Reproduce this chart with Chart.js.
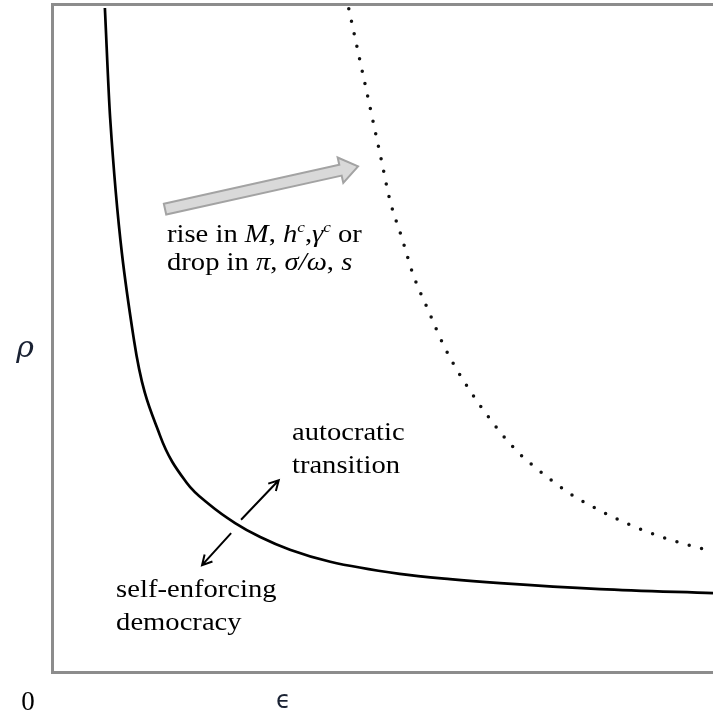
<!DOCTYPE html>
<html lang="en">
<head>
    <meta charset="UTF-8">
    <title>Self-enforcing democracy frontier</title>
    <script src="https://cdn.jsdelivr.net/npm/chart.js"></script>
    <style>
        body { margin: 0; background: #fff; }
        canvas { display: block; }
    </style>
</head>
<body>
    <canvas id="frontier" width="713" height="714"></canvas>

    <script>
        // curve values (epsilon on x, rho on y, 0..100)
        const solidX = [8.0, 8.8, 12.4, 16.3, 20.4, 23.9, 27.7, 31.5, 36.0, 42.1, 52.6, 60.2, 67.8, 82.9, 100];
        const solidY = [99.4, 82.9, 49.7, 35.5, 28.3, 25.0, 22.3, 20.2, 18.3, 16.5, 14.7, 13.9, 13.3, 12.4, 11.8];

        const dottedX = [44.9, 49.9, 51.1, 52.9, 54.6, 56.9, 59.3, 62.2, 66.7, 70.5, 73.4, 78.2, 81.5, 86.8, 92.3, 100];
        const dottedY = [99.3, 76.3, 70.7, 65.1, 59.6, 54.2, 48.8, 43.7, 37.3, 32.9, 30.4, 26.8, 24.9, 22.3, 20.2, 18.0];

        const axisLabels = { origin: '0', x: 'ϵ', y: 'ρ' };

        const shiftLine1 = [
            { t: 'rise in ' }, { t: 'M', i: true }, { t: ', ' }, { t: 'h', i: true }, { t: 'c', i: true, sup: true },
            { t: ',' }, { t: 'γ', i: true }, { t: 'c', i: true, sup: true }, { t: ' or' }
        ];
        const shiftLine2 = [
            { t: 'drop in ' }, { t: 'π', i: true }, { t: ', ' }, { t: 'σ/ω', i: true }, { t: ', ' }, { t: 's', i: true }
        ];

        const toPoints = (xs, ys) => xs.map((x, i) => ({ x: x, y: ys[i] }));

        function drawRich(ctx, segs, x, y, size, sx) {
            ctx.save();
            ctx.translate(x, y);
            ctx.scale(sx, 1);
            let cx = 0;
            segs.forEach(s => {
                const fs = s.sup ? size * 0.6 : size;
                ctx.font = (s.i ? 'italic ' : '') + fs + 'px "Liberation Serif", serif';
                ctx.fillText(s.t, cx, s.sup ? -size * 0.38 : 0);
                cx += ctx.measureText(s.t).width;
            });
            ctx.restore();
        }

        function lineArrow(ctx, x1, y1, x2, y2, head) {
            const a = Math.atan2(y2 - y1, x2 - x1);
            ctx.beginPath();
            ctx.moveTo(x1, y1);
            ctx.lineTo(x2, y2);
            ctx.moveTo(x2 - head * Math.cos(a - 0.5), y2 - head * Math.sin(a - 0.5));
            ctx.lineTo(x2, y2);
            ctx.lineTo(x2 - head * Math.cos(a + 0.5), y2 - head * Math.sin(a + 0.5));
            ctx.stroke();
        }

        function blockArrow(ctx, x1, y1, x2, y2) {
            const a = Math.atan2(y2 - y1, x2 - x1);
            const len = Math.hypot(x2 - x1, y2 - y1);
            const shaft = 11, headW = 26, headL = 18;
            ctx.save();
            ctx.translate(x1, y1);
            ctx.rotate(a);
            ctx.beginPath();
            ctx.moveTo(0, -shaft / 2);
            ctx.lineTo(len - headL, -shaft / 2);
            ctx.lineTo(len - headL, -headW / 2);
            ctx.lineTo(len, 0);
            ctx.lineTo(len - headL, headW / 2);
            ctx.lineTo(len - headL, shaft / 2);
            ctx.lineTo(0, shaft / 2);
            ctx.closePath();
            ctx.fillStyle = '#d9d9d9';
            ctx.fill();
            ctx.strokeStyle = '#a3a3a3';
            ctx.lineWidth = 2;
            ctx.stroke();
            ctx.restore();
        }

        const annotations = {
            id: 'annotations',
            afterDraw(chart) {
                const { ctx, scales: { x, y } } = chart;
                const px = v => x.getPixelForValue(v);
                const py = v => y.getPixelForValue(v);
                ctx.save();
                ctx.fillStyle = '#000';

                // axis labels
                ctx.textAlign = 'center';
                ctx.font = '27px "Liberation Serif", serif';
                ctx.fillText(axisLabels.origin, px(0) - 24, 710);
                ctx.font = '24px "DejaVu Sans"';
                ctx.fillStyle = '#1a2233';
                ctx.fillText(axisLabels.x, px(35), 708);
                ctx.font = 'italic 30px "DejaVu Serif"';
                ctx.fillText(axisLabels.y, px(0) - 27, py(47.2));

                // shift arrow and its label
                blockArrow(ctx, px(17.1), py(69.3), px(46.3), py(75.7));
                ctx.fillStyle = '#000';
                ctx.textAlign = 'left';
                drawRich(ctx, shiftLine1, px(17.4), py(64.4), 26, 1.1);
                drawRich(ctx, shiftLine2, px(17.4), py(60.2), 26, 1.1);

                // transition labels
                drawRich(ctx, [{ t: 'autocratic' }], px(36.3), py(34.7), 26, 1.1);
                drawRich(ctx, [{ t: 'transition' }], px(36.3), py(29.8), 26, 1.1);
                drawRich(ctx, [{ t: 'self-enforcing' }], px(9.7), py(11.2), 26, 1.1);
                drawRich(ctx, [{ t: 'democracy' }], px(9.7), py(6.3), 26, 1.1);

                ctx.strokeStyle = '#000';
                ctx.lineWidth = 2;
                lineArrow(ctx, px(28.6), py(22.8), px(34.3), py(28.7), 11);
                lineArrow(ctx, px(27.1), py(20.8), px(22.7), py(16.0), 11);
                ctx.restore();
            }
        };

        const hiddenAxis = (position) => ({
            type: 'linear',
            position: position,
            min: 0,
            max: 100,
            ticks: { display: false },
            grid: { display: false, drawTicks: false },
            border: { display: true, color: '#8c8c8c', width: 3 }
        });

        new Chart(document.getElementById('frontier'), {
            type: 'scatter',
            data: {
                datasets: [
                    {
                        data: toPoints(solidX, solidY),
                        showLine: true,
                        borderColor: '#000',
                        borderWidth: 2.7,
                        pointRadius: 0,
                        cubicInterpolationMode: 'monotone'
                    },
                    {
                        data: toPoints(dottedX, dottedY),
                        showLine: true,
                        borderColor: '#111',
                        borderWidth: 3.5,
                        borderDash: [0, 12.8],
                        borderCapStyle: 'round',
                        pointRadius: 0,
                        cubicInterpolationMode: 'monotone'
                    }
                ]
            },
            options: {
                responsive: false,
                animation: false,
                devicePixelRatio: 1,
                layout: { padding: { left: 52, top: 4, right: 0, bottom: 42 } },
                plugins: { legend: { display: false }, tooltip: { enabled: false } },
                scales: {
                    x: hiddenAxis('bottom'),
                    x2: hiddenAxis('top'),
                    y: hiddenAxis('left')
                }
            },
            plugins: [annotations]
        });
    </script>
</body>
</html>
